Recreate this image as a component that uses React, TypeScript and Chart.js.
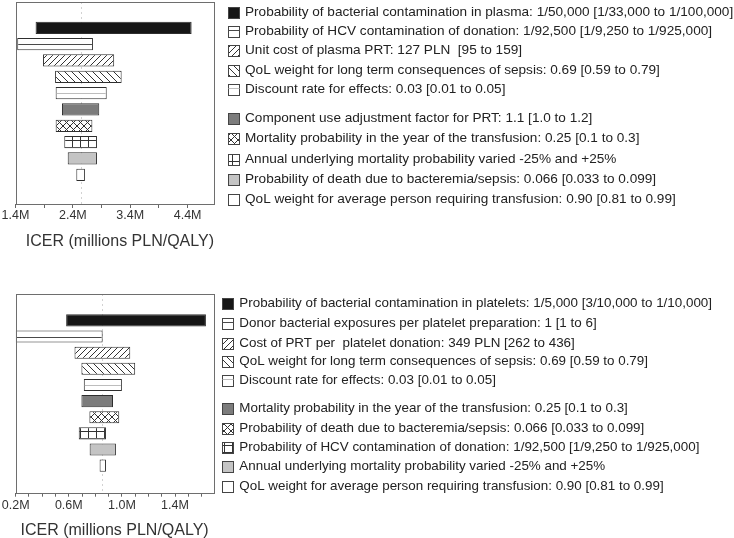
import React, { useEffect, useRef } from 'react';
import { Chart, registerables } from 'chart.js';

Chart.register(...registerables);

const FONT = "'Liberation Sans', Arial, Helvetica, sans-serif";
Chart.defaults.font.family = FONT;

// ---------------- Data: plasma (top chart) ----------------
const PLASMA_PARAMS = [
  'Probability of bacterial contamination in plasma: 1/50,000 [1/33,000 to 1/100,000]',
  'Probability of HCV contamination of donation: 1/92,500 [1/9,250 to 1/925,000]',
  'Unit cost of plasma PRT: 127 PLN  [95 to 159]',
  'QoL weight for long term consequences of sepsis: 0.69 [0.59 to 0.79]',
  'Discount rate for effects: 0.03 [0.01 to 0.05]',
  'Component use adjustment factor for PRT: 1.1 [1.0 to 1.2]',
  'Mortality probability in the year of the transfusion: 0.25 [0.1 to 0.3]',
  'Annual underlying mortality probability varied -25% and +25%',
  'Probability of death due to bacteremia/sepsis: 0.066 [0.033 to 0.099]',
  'QoL weight for average person requiring transfusion: 0.90 [0.81 to 0.99]',
];
const PLASMA_LOW = [1.75, 1.43, 1.88, 2.09, 2.1, 2.21, 2.1, 2.25, 2.31, 2.46];
const PLASMA_HIGH = [4.47, 2.75, 3.12, 3.25, 2.99, 2.86, 2.74, 2.82, 2.82, 2.61];
const PLASMA_BASE = 2.55;
const PLASMA_TICKS = [1.4, 1.9, 2.4, 2.9, 3.4, 3.9, 4.4];
const PLASMA_TICK_LABELS = ['1.4M', '', '2.4M', '', '3.4M', '', '4.4M'];
const PLASMA_MIN = 1.4;
const PLASMA_MAX = 4.86;

// ---------------- Data: platelets (bottom chart) ----------------
const PLATELET_PARAMS = [
  'Probability of bacterial contamination in platelets: 1/5,000 [3/10,000 to 1/10,000]',
  'Donor bacterial exposures per platelet preparation: 1 [1 to 6]',
  'Cost of PRT per  platelet donation: 349 PLN [262 to 436]',
  'QoL weight for long term consequences of sepsis: 0.69 [0.59 to 0.79]',
  'Discount rate for effects: 0.03 [0.01 to 0.05]',
  'Mortality probability in the year of the transfusion: 0.25 [0.1 to 0.3]',
  'Probability of death due to bacteremia/sepsis: 0.066 [0.033 to 0.099]',
  'Probability of HCV contamination of donation: 1/92,500 [1/9,250 to 1/925,000]',
  'Annual underlying mortality probability varied -25% and +25%',
  'QoL weight for average person requiring transfusion: 0.90 [0.81 to 0.99]',
];
const PLATELET_LOW = [0.58, 0.2, 0.643, 0.695, 0.713, 0.695, 0.755, 0.675, 0.757, 0.832];
const PLATELET_HIGH = [1.633, 0.855, 1.063, 1.1, 1.0, 0.933, 0.98, 0.88, 0.955, 0.88];
const PLATELET_BASE = 0.85;
const PLATELET_TICKS = [0.2, 0.3, 0.4, 0.5, 0.6, 0.7, 0.8, 0.9, 1.0, 1.1, 1.2, 1.3, 1.4, 1.5, 1.6];
const PLATELET_TICK_LABELS = ['0.2M', '', '', '', '0.6M', '', '', '', '1.0M', '', '', '', '1.4M', '', ''];
const PLATELET_MIN = 0.2;
const PLATELET_MAX = 1.69;

const AXIS_TITLE = 'ICER (millions PLN/QALY)';

// ---------------- Styles ----------------
const FILL_KINDS = ['solid:#161616', 'hline:#4a4a4a', 'fwd', 'back', 'hline:#bdbdbd', 'solid:#7c7c7c', 'cross', 'grid', 'solid:#c4c4c4', 'solid:#ffffff'];

function makeFill(kind: string): string | CanvasPattern {
  if (kind.startsWith('solid:')) return kind.slice(6);
  if (kind.startsWith('hline:')) return '#ffffff';
  const c = document.createElement('canvas');
  let w = 6, h = 6;
  if (kind === 'back') { w = 7; h = 7; }
  if (kind === 'cross') { w = 7; h = 7; }
  if (kind === 'grid') { w = 8; h = 7; }
  c.width = w; c.height = h;
  const g = c.getContext('2d')!;
  g.fillStyle = '#ffffff';
  g.fillRect(0, 0, w, h);
  g.strokeStyle = '#333333';
  g.lineWidth = 1;
  g.beginPath();
  if (kind === 'fwd' || kind === 'cross') {
    g.moveTo(-1, h + 1); g.lineTo(w + 1, -1);
    g.moveTo(-1, 1); g.lineTo(1, -1);
    g.moveTo(w - 1, h + 1); g.lineTo(w + 1, h - 1);
  }
  if (kind === 'back' || kind === 'cross') {
    g.moveTo(-1, -1); g.lineTo(w + 1, h + 1);
    g.moveTo(w - 1, -1); g.lineTo(w + 1, 1);
    g.moveTo(-1, h - 1); g.lineTo(1, h + 1);
  }
  if (kind === 'grid') {
    g.moveTo(0.5, 0); g.lineTo(0.5, h);
    g.moveTo(0, 0.5); g.lineTo(w, 0.5);
  }
  g.stroke();
  return g.createPattern(c, 'repeat')!;
}

// ---------------- Layout (page coordinates) ----------------
const PLASMA_LAYOUT = {
  canvasTop: 0, canvasHeight: 251,
  chartLeft: 15.5, chartRight: 214, chartTop: 2, xHeight: 47,
  tickPad: 0, titleAlign: 'end',
  boxX: 227.5, textX: 245, boxSize: 11, fontSize: 13.6,
  rows: [12, 31, 50, 70, 89.3, 118.3, 138.3, 159.3, 179.3, 199.3],
};
const PLATELET_LAYOUT = {
  canvasTop: 291, canvasHeight: 249,
  chartLeft: 15, chartRight: 213.5, chartTop: 294, xHeight: 47.3,
  tickPad: 1.8, titleAlign: 'center',
  boxX: 222, textX: 239.3, boxSize: 11, fontSize: 13.4,
  rows: [303.3, 323.3, 343.3, 361.7, 380.7, 408.7, 428.3, 447.7, 466.7, 486.7],
};

const extrasPlugin = {
  id: 'tornadoExtras',
  beforeDatasetsDraw(chart: any, _a: any, opts: any) {
    const { ctx, chartArea, scales } = chart;
    const x = Math.round(scales.x.getPixelForValue(opts.base)) + 0.5;
    ctx.save();
    ctx.strokeStyle = '#d2d2d2';
    ctx.lineWidth = 1;
    ctx.setLineDash([2, 3]);
    ctx.beginPath();
    ctx.moveTo(x, chartArea.top);
    ctx.lineTo(x, chartArea.bottom);
    ctx.stroke();
    ctx.restore();
  },
  afterDatasetsDraw(chart: any, _a: any, _opts: any) {
    const { ctx, chartArea } = chart;
    const meta = chart.getDatasetMeta(0);
    ctx.save();
    ctx.lineWidth = 1;
    FILL_KINDS.forEach((k, i) => {
      if (!k.startsWith('hline:')) return;
      const el = meta.data[i];
      if (!el) return;
      const { x, y, base } = el.getProps(['x', 'y', 'base'], true);
      const yy = Math.round(y) + 0.5;
      ctx.strokeStyle = k.slice(6);
      ctx.beginPath();
      ctx.moveTo(Math.min(x, base) + 1, yy);
      ctx.lineTo(Math.max(x, base) - 1, yy);
      ctx.stroke();
    });
    // frame
    ctx.strokeStyle = '#6e6e6e';
    const l = Math.round(chartArea.left) + 0.5;
    const t = Math.round(chartArea.top) + 0.5;
    const r = Math.round(chartArea.right) + 0.5;
    const b = Math.round(chartArea.bottom) + 0.5;
    ctx.strokeRect(l, t, r - l, b - t);
    ctx.restore();
  },
  afterDraw(chart: any, _a: any, opts: any) {
    const { ctx } = chart;
    const lg = opts.legend;
    ctx.save();
    ctx.font = `${lg.fontSize}px ${FONT}`;
    ctx.textBaseline = 'middle';
    ctx.textAlign = 'left';
    ctx.lineWidth = 1;
    lg.rows.forEach((pageY: number, i: number) => {
      const cy = pageY - lg.canvasTop;
      const bx = Math.round(lg.boxX) + 0.5;
      const by = Math.round(cy - lg.boxSize / 2) + 0.5;
      ctx.fillStyle = lg.fills[i];
      ctx.fillRect(bx, by, lg.boxSize, lg.boxSize);
      ctx.strokeStyle = '#444444';
      ctx.strokeRect(bx, by, lg.boxSize, lg.boxSize);
      const k = FILL_KINDS[i];
      if (k.startsWith('hline:')) {
        ctx.strokeStyle = k.slice(6);
        ctx.beginPath();
        ctx.moveTo(bx, by + 4);
        ctx.lineTo(bx + lg.boxSize, by + 4);
        ctx.stroke();
      }
      ctx.fillStyle = '#222222';
      ctx.fillText(lg.items[i], lg.textX, cy);
    });
    ctx.restore();
  },
};

interface Spec {
  params: string[]; low: number[]; high: number[]; base: number;
  ticks: number[]; tickLabels: string[]; min: number; max: number;
  layout: any;
}

function buildChart(canvas: HTMLCanvasElement, spec: Spec) {
  const L = spec.layout;
  const fills = FILL_KINDS.map(makeFill);
  const data = spec.low.map((lo, i) => ({ x: [lo, spec.high[i]], y: i }));
  return new Chart(canvas, {
    type: 'bar',
    data: {
      labels: spec.params,
      datasets: [{
        data: data as any,
        backgroundColor: fills as any,
        borderColor: '#2e2e2e',
        borderWidth: 1,
        borderSkipped: false,
        barPercentage: 0.75,
        categoryPercentage: 1,
        xAxisID: 'x',
        yAxisID: 'y',
      }],
    },
    options: {
      indexAxis: 'y',
      animation: false,
      responsive: false,
      events: [],
      layout: {
        padding: {
          left: L.chartLeft,
          right: 734 - L.chartRight,
          top: L.chartTop - L.canvasTop,
          bottom: 0,
        },
      },
      scales: {
        x: {
          type: 'linear',
          position: 'bottom',
          min: spec.min,
          max: spec.max,
          bounds: 'data',
          afterBuildTicks: (s: any) => { s.ticks = spec.ticks.map((v) => ({ value: v })); },
          afterFit: (s: any) => { s.height = L.xHeight; },
          ticks: {
            autoSkip: false,
            maxRotation: 0,
            padding: L.tickPad,
            font: { family: FONT, size: 12.5 },
            color: '#333333',
            callback: (_v: any, i: number) => spec.tickLabels[i],
          },
          grid: { display: true, drawOnChartArea: false, drawTicks: true, tickLength: 4, color: '#666666', lineWidth: 1 },
          border: { display: false },
          title: {
            display: true,
            text: AXIS_TITLE,
            font: { family: FONT, size: 16 },
            color: '#333333',
            padding: { top: 0, bottom: 0 },
            align: L.titleAlign,
          },
        },
        y: {
          type: 'linear',
          display: false,
          reverse: true,
          min: L.yMin,
          max: L.yMax,
        },
      },
      plugins: {
        legend: { display: false },
        tooltip: { enabled: false },
        tornadoExtras: {
          base: spec.base,
          legend: {
            items: spec.params, fills, rows: L.rows, canvasTop: L.canvasTop,
            boxX: L.boxX, textX: L.textX, boxSize: L.boxSize, fontSize: L.fontSize,
          },
        },
      } as any,
    } as any,
    plugins: [extrasPlugin],
  });
}

export default function App() {
  const topRef = useRef<HTMLCanvasElement>(null);
  const botRef = useRef<HTMLCanvasElement>(null);
  useEffect(() => {
    const c1 = buildChart(topRef.current!, {
      params: PLASMA_PARAMS, low: PLASMA_LOW, high: PLASMA_HIGH, base: PLASMA_BASE,
      ticks: PLASMA_TICKS, tickLabels: PLASMA_TICK_LABELS, min: PLASMA_MIN, max: PLASMA_MAX,
      layout: { ...PLASMA_LAYOUT, yMin: -0.55, yMax: 9.76 },
    });
    const c2 = buildChart(botRef.current!, {
      params: PLATELET_PARAMS, low: PLATELET_LOW, high: PLATELET_HIGH, base: PLATELET_BASE,
      ticks: PLATELET_TICKS, tickLabels: PLATELET_TICK_LABELS, min: PLATELET_MIN, max: PLATELET_MAX,
      layout: { ...PLATELET_LAYOUT, yMin: -0.61, yMax: 9.65 },
    });
    return () => { c1.destroy(); c2.destroy(); };
  }, []);
  return (
    <div style={{ position: 'absolute', left: 0, top: 0, width: 734, height: 538, overflow: 'hidden', background: '#ffffff' }}>
      <canvas ref={topRef} width={734} height={PLASMA_LAYOUT.canvasHeight} style={{ position: 'absolute', left: 0, top: PLASMA_LAYOUT.canvasTop }} />
      <canvas ref={botRef} width={734} height={PLATELET_LAYOUT.canvasHeight} style={{ position: 'absolute', left: 0, top: PLATELET_LAYOUT.canvasTop }} />
    </div>
  );
}
